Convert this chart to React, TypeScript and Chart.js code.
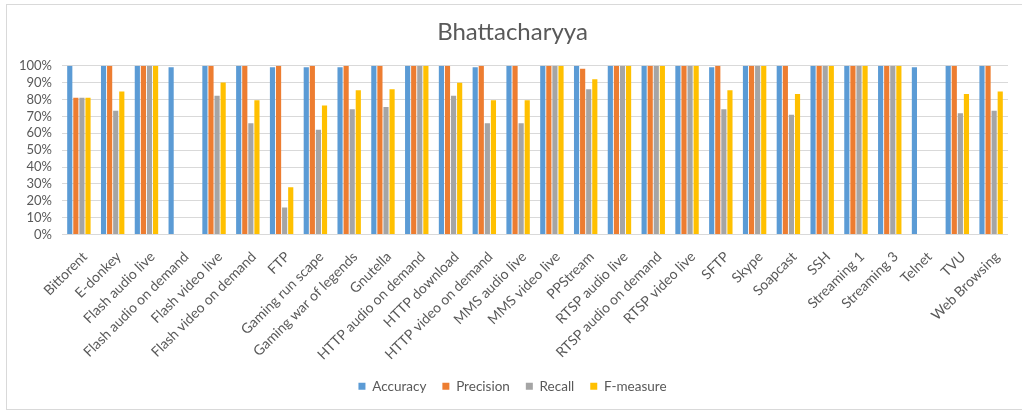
import React, { useEffect, useRef } from "react";
import { Chart, registerables } from "chart.js";

Chart.register(...registerables);

const categories = [
  "Bittorent", "E-donkey", "Flash audio live", "Flash audio on demand", "Flash video live",
  "Flash video on demand", "FTP", "Gaming run scape", "Gaming war of legends", "Gnutella",
  "HTTP audio on demand", "HTTP download", "HTTP video on demand", "MMS audio live", "MMS video live",
  "PPStream", "RTSP audio live", "RTSP audio on demand", "RTSP video live", "SFTP",
  "Skype", "Soapcast", "SSH", "Streaming 1", "Streaming 3",
  "Telnet", "TVU", "Web Browsing",
];

const accuracy = [
  100, 100, 100, 99.2, 100,
  100, 99.2, 99.2, 99.2, 100,
  100, 100, 99.2, 100, 100,
  100, 100, 100, 100, 99.2,
  100, 100, 100, 100, 100,
  99.2, 100, 100,
];
const precision = [
  81, 100, 100, 0, 100,
  100, 100, 100, 100, 100,
  100, 100, 100, 100, 100,
  98.2, 100, 100, 100, 100,
  100, 100, 100, 100, 100,
  0, 100, 100,
];
const recall = [
  81, 73.4, 100, 0, 82.3,
  65.9, 16, 62.1, 74.2, 75.6,
  100, 82.3, 65.9, 65.9, 100,
  86.1, 100, 100, 100, 74.2,
  100, 71, 100, 100, 100,
  0, 71.8, 73.4,
];
const fmeasure = [
  81, 84.7, 100, 0, 90.1,
  79.6, 28, 76.4, 85.5, 86.1,
  100, 89.9, 79.6, 79.6, 100,
  92.1, 100, 100, 100, 85.5,
  100, 83.3, 100, 100, 100,
  0, 83.3, 84.7,
];

const seriesNames = ["Accuracy", "Precision", "Recall", "F-measure"];
const seriesColors = ["#5B9BD5", "#ED7D31", "#A5A5A5", "#FFC000"];
const yTicks = [0, 10, 20, 30, 40, 50, 60, 70, 80, 90, 100];

const FONT = "Lato, 'Open Sans', sans-serif";

export default function App() {
  const ref = useRef<HTMLCanvasElement | null>(null);
  useEffect(() => {
    if (!ref.current) return;
    const values = [accuracy, precision, recall, fmeasure];
    const chart = new Chart(ref.current, {
      type: "bar",
      data: {
        labels: categories,
        datasets: seriesNames.map((n, i) => ({
          label: n,
          data: values[i],
          backgroundColor: seriesColors[i],
          borderWidth: 0,
          categoryPercentage: 0.72,
          barPercentage: 0.85,
        })),
      },
      options: {
        animation: false,
        responsive: false,
        maintainAspectRatio: false,
        layout: { padding: { left: 17, right: 14, top: 0, bottom: 7 } },
        plugins: {
          title: {
            display: true,
            text: "Bhattacharyya",
            color: "#595959",
            font: { family: FONT, size: 24, weight: "normal" },
            padding: { top: 18, bottom: 19 },
          },
          legend: {
            position: "bottom",
            labels: {
              color: "#595959",
              font: { family: FONT, size: 13.5 },
              boxWidth: 7,
              boxHeight: 7,
              padding: 16,
            },
          },
          tooltip: { enabled: false },
        },
        scales: {
          x: {
            grid: { display: false, drawTicks: false },
            border: { display: false },
            ticks: {
              color: "#595959",
              font: { family: FONT, size: 14 },
              maxRotation: 45,
              minRotation: 45,
              autoSkip: false,
              padding: 14,
              labelOffset: 6,
            },
            afterFit: (s: any) => { s.height = 129; },
          },
          y: {
            min: 0,
            max: 100,
            afterBuildTicks: (s: any) => { s.ticks = yTicks.map((v) => ({ value: v })); },
            grid: { color: "#d9d9d9", drawTicks: false },
            border: { display: false },
            ticks: {
              color: "#595959",
              font: { family: FONT, size: 13 },
              padding: 10,
              autoSkip: false,
              callback: (v: any) => `${v}%`,
            },
            afterFit: (s: any) => { s.width = 45; },
          },
        },
      },
    });
    return () => chart.destroy();
  }, []);
  return (
    <div style={{ position: "fixed", left: 0, top: 0, width: 1022, height: 410, background: "#fff" }}>
      <div style={{ position: "absolute", left: 6, top: 4, width: 1030, height: 404, border: "1px solid #d9d9d9" }} />
      <canvas ref={ref} width={1022} height={410} style={{ position: "absolute", left: 0, top: 0 }} />
    </div>
  );
}
